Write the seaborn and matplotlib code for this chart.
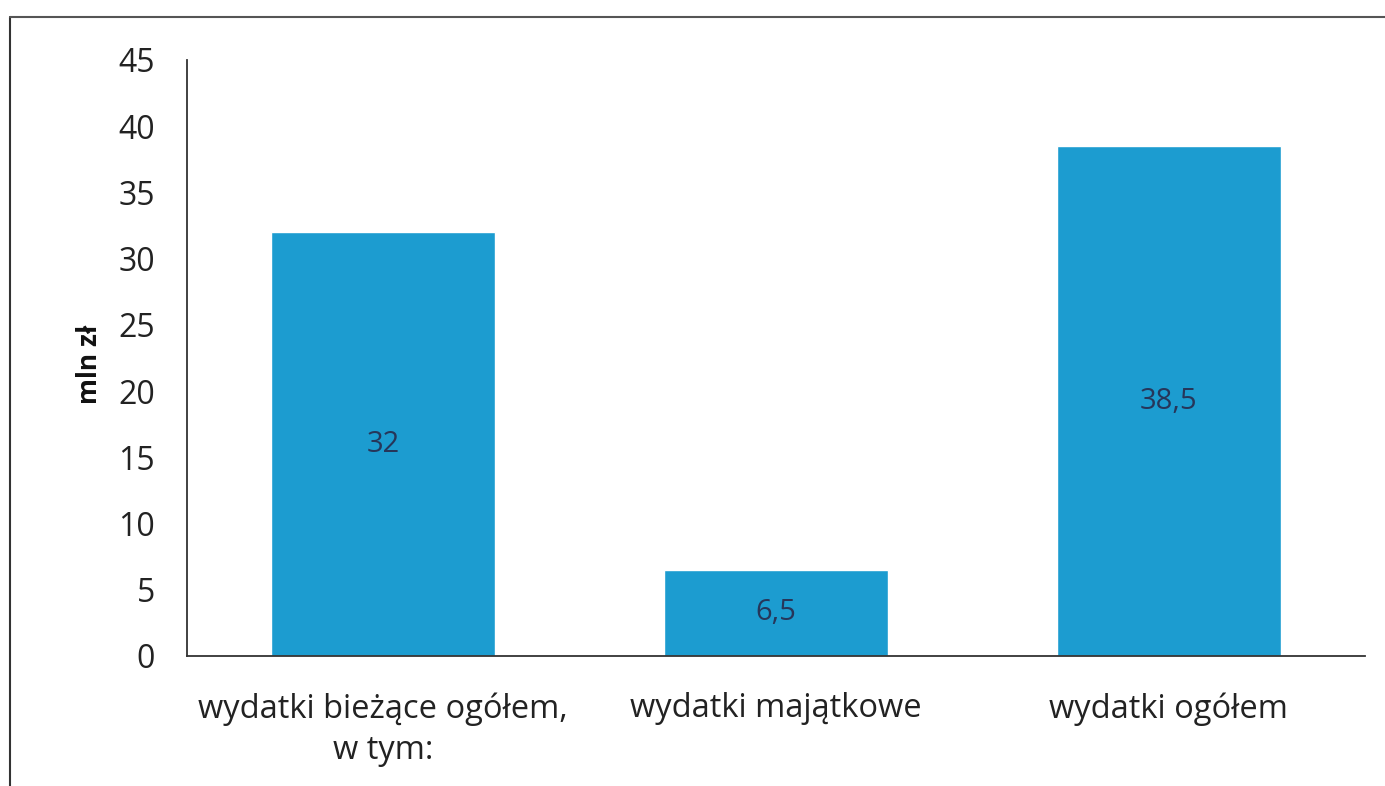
import matplotlib
matplotlib.use("Agg")
import matplotlib.pyplot as plt
import seaborn as sns
import pandas as pd
from matplotlib.lines import Line2D

categories = ["wydatki bieżące ogółem,\nw tym:", "wydatki majątkowe", "wydatki ogółem"]
values = [32, 6.5, 38.5]
value_labels = ["32", "6,5", "38,5"]
yticks = [0, 5, 10, 15, 20, 25, 30, 35, 40, 45]

sns.set_theme(style="white")
plt.rcParams['font.family'] = ['Open Sans', 'DejaVu Sans']

df = pd.DataFrame({"kat": categories, "val": values})

fig = plt.figure(figsize=(13.85, 7.86), dpi=100)
ax = fig.add_axes([187/1385, 1-656/786, (1365-187)/1385, (656-60)/786])
sns.barplot(data=df, x="kat", y="val", color="#1C9CD0", saturation=1, width=0.57, ax=ax)

ax.set_ylim(0, 45)
ax.set_yticks(yticks)
ax.set_yticklabels([str(t) for t in yticks], fontsize=23, color="#222222")
ax.tick_params(axis='x', labelsize=23.5, colors="#222222", pad=26, length=0)
ax.tick_params(axis='y', pad=23, length=0)
for lbl in ax.get_xticklabels():
    lbl.set_linespacing(1.35)
ax.set_xlabel("")
ax.set_ylabel("mln zł", fontsize=19, fontweight="bold", color="#111111")
ax.yaxis.set_label_coords(-0.071, 0.49)

for s in ["top", "right"]:
    ax.spines[s].set_visible(False)
for s in ["left", "bottom"]:
    ax.spines[s].set_color("#333333")
    ax.spines[s].set_linewidth(1.3)

ax.bar_label(ax.containers[0], labels=value_labels, label_type="center",
             fontsize=21, color="#26365a")

# scanned frame lines
fig.add_artist(Line2D([10/1385, 10/1385], [0, 1-17/786], color="#333333", lw=1.5, transform=fig.transFigure))
fig.add_artist(Line2D([10/1385, 1], [1-17/786, 1-17/786], color="#555555", lw=1.5, transform=fig.transFigure))

fig.savefig("out.png", dpi=100)
